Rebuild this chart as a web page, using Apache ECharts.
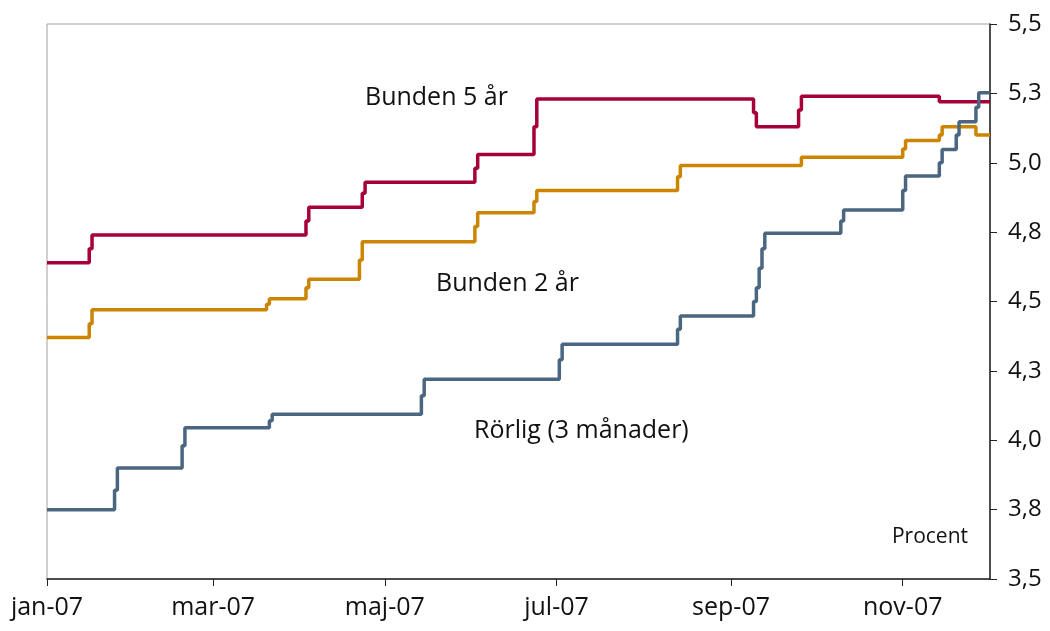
<!DOCTYPE html>
<html>
<head>
<meta charset="utf-8">
<script src="https://cdn.jsdelivr.net/npm/echarts@6/dist/echarts.min.js"></script>
<style>
  html,body{margin:0;padding:0;background:#fff;}
  #main{width:1050px;height:631px;}
</style>
</head>
<body>
<div id="main"></div>
<script>
// change dates and values (step lines, value holds until next date)
const bunden5Dates=['2007-01-01','2007-01-16','2007-01-17','2007-04-03','2007-04-04','2007-04-23','2007-04-24','2007-06-02','2007-06-03','2007-06-23','2007-06-24','2007-09-09','2007-09-10','2007-09-25','2007-09-26','2007-11-14','2007-12-02']
const bunden5Values=[4.64,4.69,4.74,4.79,4.84,4.89,4.93,4.98,5.03,5.13,5.23,5.18,5.13,5.19,5.24,5.22,5.22]

const bunden2Dates=['2007-01-01','2007-01-16','2007-01-17','2007-03-20','2007-03-21','2007-04-03','2007-04-04','2007-04-22','2007-04-23','2007-06-02','2007-06-03','2007-06-23','2007-06-24','2007-08-13','2007-08-14','2007-09-26','2007-11-01','2007-11-02','2007-11-14','2007-11-15','2007-11-27','2007-12-02']
const bunden2Values=[4.37,4.42,4.47,4.49,4.51,4.55,4.58,4.65,4.715,4.77,4.82,4.86,4.90,4.95,4.99,5.02,5.05,5.08,5.10,5.13,5.10,5.10]

const rorligDates=['2007-01-01','2007-01-25','2007-01-26','2007-02-18','2007-02-19','2007-03-21','2007-03-22','2007-05-14','2007-05-15','2007-07-02','2007-07-03','2007-08-13','2007-08-14','2007-09-09','2007-09-10','2007-09-11','2007-09-12','2007-09-13','2007-10-10','2007-10-11','2007-11-01','2007-11-02','2007-11-14','2007-11-15','2007-11-20','2007-11-21','2007-11-27','2007-11-28','2007-12-02']
const rorligValues=[3.75,3.82,3.90,3.98,4.045,4.07,4.094,4.16,4.22,4.29,4.346,4.40,4.448,4.50,4.55,4.62,4.69,4.746,4.79,4.83,4.90,4.952,5.00,5.048,5.10,5.148,5.20,5.252,5.252]

const monthNames=['jan','feb','mar','apr','maj','jun','jul','aug','sep','okt','nov','dec']
const xTickMonths=[0,2,4,6,8,10]

const font='"Open Sans", sans-serif'
const ts=s=>{const p=s.split('-');return Date.UTC(+p[0],+p[1]-1,+p[2])}
const xTicks=xTickMonths.map(m=>Date.UTC(2007,m,1))

function pairs(dates,values){
  return dates.map((d,i)=>[ts(d),values[i]])
}

const myChart=echarts.init(document.querySelector('#main'),null,{renderer:'canvas'})
const option={
  animation:false,
  grid:{left:47,right:60,top:24,bottom:52,show:true,borderColor:'#a0a0a0',borderWidth:1},
  xAxis:{
    type:'value',
    min:ts('2007-01-01'),
    max:ts('2007-12-02'),
    axisLine:{lineStyle:{color:'#222',width:1.5}},
    axisTick:{show:true,length:7,lineStyle:{color:'#222'},customValues:xTicks},
    axisLabel:{
      customValues:xTicks,
      color:'#111',fontFamily:font,fontSize:25,margin:16,
      formatter:v=>{const d=new Date(v);return monthNames[d.getUTCMonth()]+'-'+String(d.getUTCFullYear()).slice(2)}
    },
    splitLine:{show:false}
  },
  yAxis:{
    type:'value',
    position:'right',
    min:3.5,max:5.5,interval:0.25,
    axisLine:{show:true,lineStyle:{color:'#222',width:1.5}},
    axisTick:{show:true,length:7,lineStyle:{color:'#222'}},
    axisLabel:{
      color:'#111',fontFamily:font,fontSize:24,margin:18,
      formatter:v=>v.toFixed(1).replace('.',',')
    },
    splitLine:{show:false}
  },
  series:[
    {name:'Bunden 5 år',type:'line',step:'end',showSymbol:false,data:pairs(bunden5Dates,bunden5Values),lineStyle:{color:'#a6003a',width:3.5},itemStyle:{color:'#a6003a'}},
    {name:'Bunden 2 år',type:'line',step:'end',showSymbol:false,data:pairs(bunden2Dates,bunden2Values),lineStyle:{color:'#cc8500',width:3.5},itemStyle:{color:'#cc8500'}},
    {name:'Rörlig (3 månader)',type:'line',step:'end',showSymbol:false,data:pairs(rorligDates,rorligValues),lineStyle:{color:'#4a6680',width:3.5},itemStyle:{color:'#4a6680'}}
  ],
  graphic:[
    {type:'text',left:365,top:85,style:{text:'Bunden 5 år',font:'25px '+font,fill:'#111'}},
    {type:'text',left:436,top:271,style:{text:'Bunden 2 år',font:'25px '+font,fill:'#111'}},
    {type:'text',left:474,top:418,style:{text:'Rörlig (3 månader)',font:'25px '+font,fill:'#111'}},
    {type:'text',right:82,top:527,style:{text:'Procent',font:'21px '+font,fill:'#111'}}
  ]
}
myChart.setOption(option)
</script>
</body>
</html>
